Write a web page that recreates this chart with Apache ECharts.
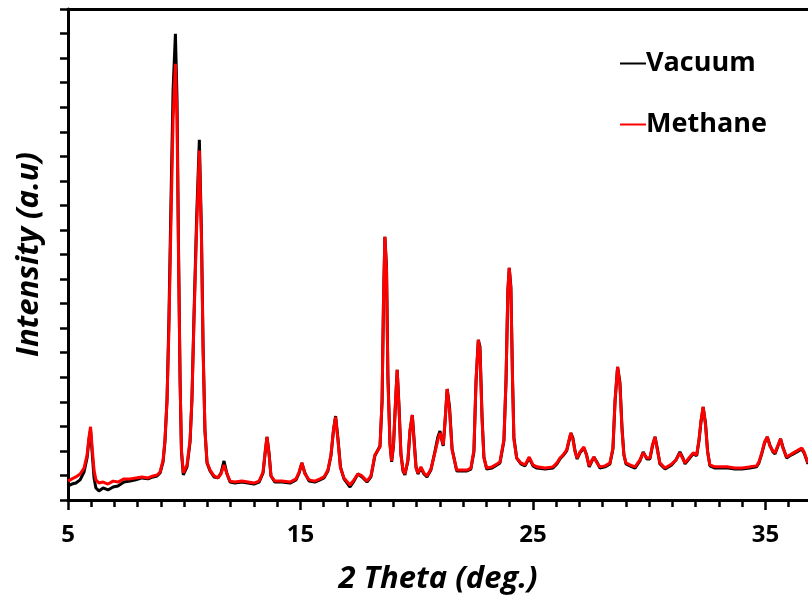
<!DOCTYPE html>
<html>
<head>
<meta charset="utf-8">
<script src="https://cdn.jsdelivr.net/npm/echarts@6/dist/echarts.min.js"></script>
<style>
  html, body { margin: 0; padding: 0; background: #fff; }
  #chart { width: 808px; height: 600px; }
</style>
</head>
<body>
<div id="chart"></div>
<script>
// Powder XRD patterns: 2θ positions and intensities (a.u.) for both samples
const twoTheta = [
  5.00, 5.17, 5.34, 5.52, 5.69, 5.82, 5.90, 5.97, 6.03, 6.12,
  6.20, 6.33, 6.51, 6.72, 6.94, 7.15, 7.41, 7.67, 7.92, 8.18,
  8.44, 8.66, 8.83, 8.96, 9.09, 9.17, 9.26, 9.34, 9.43, 9.52,
  9.62, 9.69, 9.75, 9.82, 9.88, 9.96, 10.03, 10.12, 10.25, 10.33,
  10.42, 10.53, 10.65, 10.74, 10.81, 10.89, 10.98, 11.11, 11.28, 11.45,
  11.58, 11.71, 11.84, 11.97, 12.18, 12.48, 12.74, 13.00, 13.22, 13.39,
  13.49, 13.56, 13.65, 13.73, 13.90, 14.20, 14.55, 14.81, 14.94, 15.06,
  15.19, 15.37, 15.62, 15.84, 16.01, 16.18, 16.31, 16.42, 16.51, 16.61,
  16.72, 16.87, 17.13, 17.30, 17.47, 17.65, 17.86, 18.03, 18.20, 18.42,
  18.51, 18.57, 18.63, 18.70, 18.76, 18.85, 18.92, 19.00, 19.09, 19.16,
  19.24, 19.32, 19.41, 19.49, 19.62, 19.71, 19.81, 19.88, 19.97, 20.05,
  20.18, 20.31, 20.44, 20.61, 20.78, 20.91, 21.00, 21.09, 21.14, 21.22,
  21.31, 21.41, 21.52, 21.72, 21.95, 22.16, 22.33, 22.46, 22.55, 22.65,
  22.72, 22.81, 22.89, 23.01, 23.24, 23.45, 23.58, 23.75, 23.84, 23.92,
  23.98, 24.05, 24.12, 24.18, 24.30, 24.48, 24.66, 24.84, 25.00, 25.17,
  25.52, 25.86, 26.03, 26.16, 26.29, 26.45, 26.55, 26.63, 26.72, 26.81,
  26.90, 27.02, 27.19, 27.30, 27.42, 27.54, 27.62, 27.75, 27.88, 28.10,
  28.31, 28.44, 28.53, 28.64, 28.74, 28.83, 28.91, 29.00, 29.17, 29.39,
  29.60, 29.74, 29.90, 30.03, 30.14, 30.25, 30.35, 30.46, 30.68, 30.97,
  31.15, 31.32, 31.45, 31.54, 31.71, 31.89, 32.04, 32.14, 32.23, 32.32,
  32.42, 32.51, 32.61, 32.83, 33.04, 33.39, 33.69, 33.99, 34.33, 34.62,
  34.72, 34.84, 34.96, 35.08, 35.19, 35.32, 35.41, 35.54, 35.65, 35.75,
  35.91, 36.05, 36.20, 36.35, 36.56, 36.66, 36.83
];

const vacuum = [
  57, 65, 69, 82, 114, 171, 245, 285, 204, 90,
  49, 37, 49, 41, 53, 57, 73, 77, 82, 90,
  86, 94, 98, 110, 155, 236, 408, 734, 1223, 1671,
  1899, 1630, 1060, 497, 196, 102, 106, 135, 236, 408,
  754, 1141, 1467, 1093, 632, 285, 151, 118, 94, 90,
  110, 159, 106, 73, 69, 73, 69, 65, 73, 110,
  200, 257, 190, 98, 73, 73, 69, 82, 110, 151,
  110, 77, 73, 82, 90, 118, 180, 285, 342, 252,
  135, 86, 53, 77, 106, 94, 73, 94, 180, 220,
  400, 800, 1072, 950, 510, 230, 155, 220, 400, 530,
  380, 190, 118, 102, 159, 280, 346, 255, 135, 106,
  130, 106, 94, 122, 196, 257, 281, 240, 220, 320,
  452, 380, 210, 118, 118, 118, 126, 196, 480, 652,
  625, 340, 175, 126, 130, 143, 151, 240, 480, 850,
  946, 870, 500, 255, 171, 147, 139, 171, 139, 130,
  126, 130, 147, 167, 180, 200, 240, 273, 252, 200,
  167, 192, 212, 186, 135, 159, 175, 155, 130, 135,
  147, 208, 400, 542, 480, 295, 186, 147, 139, 130,
  159, 196, 167, 167, 220, 257, 210, 147, 126, 143,
  163, 196, 171, 147, 167, 188, 180, 240, 320, 379,
  315, 200, 139, 130, 130, 130, 126, 126, 130, 135,
  151, 188, 232, 257, 224, 196, 188, 220, 249, 216,
  171, 180, 188, 196, 208, 192, 147
];

const methane = [
  77, 86, 94, 106, 130, 183, 253, 298, 224, 122,
  82, 69, 73, 65, 77, 73, 86, 86, 90, 94,
  90, 98, 102, 114, 163, 245, 408, 693, 1141, 1549,
  1777, 1549, 1019, 489, 204, 110, 114, 143, 245, 408,
  734, 1101, 1423, 1060, 611, 285, 155, 122, 98, 90,
  106, 143, 106, 77, 73, 77, 73, 69, 77, 114,
  204, 257, 183, 98, 77, 77, 73, 86, 114, 151,
  106, 82, 77, 86, 94, 122, 183, 285, 338, 245,
  130, 90, 61, 82, 106, 98, 77, 98, 183, 216,
  408, 815, 1072, 937, 489, 224, 159, 224, 408, 530,
  367, 183, 122, 106, 163, 285, 346, 245, 130, 110,
  135, 110, 98, 126, 192, 245, 273, 245, 224, 326,
  452, 367, 204, 122, 122, 122, 130, 204, 489, 652,
  611, 326, 171, 130, 135, 147, 155, 245, 489, 856,
  946, 856, 489, 245, 171, 151, 143, 175, 143, 135,
  130, 135, 151, 171, 183, 204, 245, 273, 245, 196,
  171, 196, 216, 183, 139, 163, 175, 151, 135, 139,
  151, 212, 408, 542, 469, 285, 183, 151, 143, 135,
  163, 192, 171, 171, 224, 257, 204, 151, 130, 147,
  163, 192, 167, 151, 171, 192, 183, 245, 326, 379,
  306, 196, 143, 135, 135, 135, 130, 130, 135, 139,
  155, 192, 236, 257, 220, 200, 192, 224, 249, 212,
  175, 183, 192, 200, 212, 196, 151
];

const seriesNames = ['Vacuum', 'Methane'];
const seriesColors = ['#000000', '#ff0000'];
const xLabelTicks = [5, 15, 25, 35];

const xMin = 5, xMax = 36.83;
const yMin = 0, yMax = 2000, yStep = 100;

// one short tick every degree, long ticks where the labels sit
const xMinorTicks = [];
for (let v = xMin; v <= Math.floor(xMax); v++) xMinorTicks.push(v);

const font = '"Open Sans", sans-serif';

const pairs = (ys) => twoTheta.map((x, i) => [x, ys[i]]);

const chart = echarts.init(document.getElementById('chart'), null, { renderer: 'canvas' });

chart.setOption({
  animation: false,
  backgroundColor: '#ffffff',
  grid: { left: 68, right: 0, top: 9, bottom: 100, containLabel: false },
  legend: {
    data: seriesNames,
    orient: 'vertical',
    left: 615,
    top: 43,
    itemWidth: 26,
    itemHeight: 2,
    itemGap: 30,
    icon: 'rect',
    textStyle: {
      fontFamily: font, fontSize: 27, fontWeight: 'bold', color: '#000',
      padding: [0, 0, 0, -5], lineHeight: 31
    }
  },
  xAxis: [
    {
      type: 'value', min: xMin, max: xMax,
      name: '2 Theta (deg.)', nameLocation: 'middle', nameGap: 64,
      nameTextStyle: { fontFamily: font, fontSize: 31, fontWeight: 'bold', fontStyle: 'italic', color: '#000' },
      axisLine: { show: true, onZero: false, lineStyle: { color: '#000', width: 3 } },
      axisTick: { show: true, inside: false, length: 7, lineStyle: { color: '#000', width: 2.5 }, customValues: xMinorTicks },
      axisLabel: { show: true, customValues: xLabelTicks, margin: 23, fontFamily: font, fontSize: 24, fontWeight: 'bold', color: '#000' },
      splitLine: { show: false }
    },
    {
      type: 'value', min: xMin, max: xMax, position: 'bottom',
      axisLine: { show: false, onZero: false },
      axisTick: { show: true, inside: false, length: 10, lineStyle: { color: '#000', width: 2.5 }, customValues: xLabelTicks },
      axisLabel: { show: false },
      splitLine: { show: false }
    },
    {
      type: 'value', min: xMin, max: xMax, position: 'top',
      axisLine: { show: true, onZero: false, lineStyle: { color: '#000', width: 3 } },
      axisTick: { show: false },
      axisLabel: { show: false },
      splitLine: { show: false }
    }
  ],
  yAxis: {
    type: 'value', min: yMin, max: yMax, interval: yStep,
    name: 'Intensity (a.u)', nameLocation: 'middle', nameGap: 23, nameRotate: 90,
    nameTextStyle: { fontFamily: font, fontSize: 31, fontWeight: 'bold', fontStyle: 'italic', color: '#000' },
    axisLine: { show: true, onZero: false, lineStyle: { color: '#000', width: 3 } },
    axisTick: { show: true, inside: false, length: 8, lineStyle: { color: '#000', width: 2.5 } },
    axisLabel: { show: false },
    splitLine: { show: false }
  },
  series: [
    {
      name: seriesNames[0], type: 'line', xAxisIndex: 0, data: pairs(vacuum),
      showSymbol: false, symbol: 'none', clip: true,
      color: seriesColors[0], lineStyle: { color: seriesColors[0], width: 3 }
    },
    {
      name: seriesNames[1], type: 'line', xAxisIndex: 0, data: pairs(methane),
      showSymbol: false, symbol: 'none', clip: true,
      color: seriesColors[1], lineStyle: { color: seriesColors[1], width: 3 }
    }
  ]
});
</script>
</body>
</html>
